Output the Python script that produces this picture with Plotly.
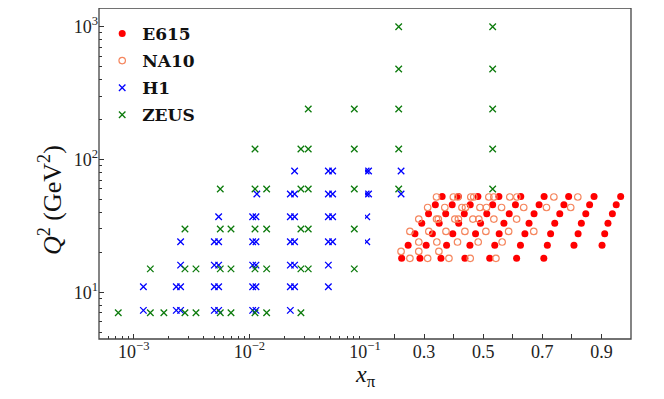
import numpy as np
import plotly.graph_objects as go

# E615 Drell-Yan: one row of x_pi values per Q^2 = M^2 bin
e615_q2 = [18.06, 22.56, 27.56, 33.06, 39.06, 45.56, 52.56]
e615_x = [
    [0.224, 0.286, 0.357, 0.438, 0.522, 0.613, 0.705],
    [0.246, 0.307, 0.376, 0.455, 0.539, 0.626, 0.717, 0.807, 0.902],
    [0.269, 0.328, 0.397, 0.474, 0.554, 0.641, 0.728, 0.821, 0.911],
    [0.292, 0.351, 0.417, 0.491, 0.570, 0.655, 0.742, 0.832, 0.922],
    [0.315, 0.373, 0.436, 0.512, 0.588, 0.672, 0.759, 0.847, 0.937],
    [0.338, 0.395, 0.456, 0.532, 0.609, 0.689, 0.773, 0.860, 0.950],
    [0.361, 0.416, 0.482, 0.553, 0.627, 0.706, 0.789, 0.875, 0.965],
]

# NA10 Drell-Yan
na10_q2 = [18.0, 20.3, 23.9, 28.7, 35.6, 43.5, 52.2]
na10_x = [
    [0.252, 0.312, 0.384, 0.456, 0.543],
    [0.222, 0.282, 0.350],
    [0.282, 0.343, 0.413, 0.483, 0.564],
    [0.252, 0.316, 0.374, 0.438, 0.509, 0.586, 0.671],
    [0.282, 0.342, 0.348, 0.404, 0.416, 0.465, 0.485, 0.536, 0.613],
    [0.312, 0.370, 0.428, 0.440, 0.489, 0.511, 0.562, 0.637, 0.714, 0.796],
    [0.342, 0.399, 0.414, 0.458, 0.468, 0.519, 0.536, 0.590, 0.614, 0.739, 0.820],
]

# H1 leading neutron
h1_q2 = [7.3, 11, 16, 24, 37, 55, 82]
h1_x = [
    [0.00121, 0.00233, 0.00254, 0.00497, 0.00542, 0.01067, 0.0114, 0.0226],
    [0.00121, 0.00233, 0.00254, 0.00497, 0.00542, 0.01067, 0.0114, 0.0226, 0.0246, 0.0482],
    [0.00254, 0.00497, 0.00542, 0.01067, 0.0114, 0.0226, 0.0246, 0.0482],
    [0.00254, 0.00497, 0.00542, 0.01067, 0.0114, 0.0226, 0.0246, 0.0482, 0.0525, 0.106],
    [0.00542, 0.01067, 0.0114, 0.0226, 0.0246, 0.0482, 0.0525, 0.106],
    [0.0116, 0.0226, 0.0246, 0.0482, 0.0525, 0.104, 0.112, 0.222],
    [0.0246, 0.0482, 0.0525, 0.104, 0.112, 0.222],
]

# ZEUS leading neutron
zeus_q2 = [7, 15, 30, 60, 120, 240, 480, 1000]
zeus_x = [
    [0.000734, 0.00139, 0.00182, 0.00277, 0.00345, 0.0056, 0.00693, 0.01118, 0.0141, 0.0279],
    [0.00139, 0.00277, 0.00345, 0.0056, 0.00693, 0.01118, 0.0141, 0.0279, 0.0323, 0.0808],
    [0.00277, 0.0056, 0.00693, 0.01118, 0.0141, 0.0279, 0.0323, 0.0808],
    [0.0056, 0.01118, 0.0141, 0.0279, 0.0323, 0.0808, 0.214, 0.532],
    [0.01118, 0.0279, 0.0323, 0.0808, 0.214, 0.532],
    [0.0323, 0.0808, 0.214, 0.532],
    [0.214, 0.532],
    [0.214, 0.532],
]

X_SPLIT = 0.1
SERIF = "Liberation Serif"
LEGEND_FONT = "DejaVu Serif"


def flatten(q2_levels, x_rows):
    xs, ys = [], []
    for q2, row in zip(q2_levels, x_rows):
        xs.extend(row)
        ys.extend([q2] * len(row))
    return np.array(xs), np.array(ys)


def add_series(fig, name, q2_levels, x_rows, marker):
    # log axis below x = 0.1, linear axis above it
    x, y = flatten(q2_levels, x_rows)
    low = x < X_SPLIT
    first = True
    for mask, xaxis in [(low, "x"), (~low, "x2")]:
        if not mask.any():
            continue
        fig.add_trace(go.Scatter(
            x=x[mask], y=y[mask], mode="markers", name=name,
            legendgroup=name, showlegend=first, marker=marker,
            xaxis=xaxis, yaxis="y",
        ))
        first = False


fig = go.Figure()
add_series(fig, "E615", e615_q2, e615_x,
           dict(symbol="circle", size=7, color="#ff0000", line=dict(width=0)))
add_series(fig, "NA10", na10_q2, na10_x,
           dict(symbol="circle-open", size=6.5, color="#f5865e", line=dict(width=1.2)))
add_series(fig, "H1", h1_q2, h1_x,
           dict(symbol="x-thin-open", size=6.5, color="#0000ff", line=dict(width=1.3)))
add_series(fig, "ZEUS", zeus_q2, zeus_x,
           dict(symbol="x-thin-open", size=6.5, color="#0b7a0b", line=dict(width=1.3)))

tick_common = dict(
    ticks="inside", ticklen=5, tickwidth=1, tickcolor="#333333",
    showgrid=False, zeroline=False, showline=False,
    tickfont=dict(family=SERIF, size=18, color="#222222"),
)
minor_common = dict(tickmode="array", ticks="inside", ticklen=3, tickwidth=1, tickcolor="#333333")

log_minor = [m * 10.0 ** k for k in (-4, -3, -2) for m in range(2, 10) if 5e-4 <= m * 10.0 ** k < 0.1]
y_minor = [m * 10.0 ** k for k in (0, 1, 2, 3) for m in range(2, 10) if 4.4 <= m * 10.0 ** k <= 1400]

fig.update_layout(
    width=664, height=399,
    margin=dict(l=91, r=41, t=0, b=68),
    paper_bgcolor="white", plot_bgcolor="white",
    font=dict(family=SERIF, color="#222222"),
    xaxis=dict(
        type="log", domain=[0, 0.5], range=[np.log10(5e-4), -1], anchor="y",
        tickmode="array", tickvals=[1e-3, 1e-2, 1e-1],
        ticktext=["10<sup>\u22123</sup>", "10<sup>\u22122</sup>", "10<sup>\u22121</sup>"],
        minor=dict(tickvals=log_minor, **minor_common),
        **tick_common,
    ),
    xaxis2=dict(
        type="linear", domain=[0.5, 1], range=[0.1, 1.0], anchor="y",
        tickmode="array", tickvals=[0.3, 0.5, 0.7, 0.9],
        minor=dict(tickvals=[0.2, 0.4, 0.6, 0.8], **dict(minor_common, ticklen=5)),
        **tick_common,
    ),
    yaxis=dict(
        type="log", range=[0.648, 3.141], anchor="x",
        tickmode="array", tickvals=[10, 100, 1000],
        ticktext=["10<sup>1</sup>", "10<sup>2</sup>", "10<sup>3</sup>"],
        minor=dict(tickvals=y_minor, **minor_common),
        **tick_common,
    ),
    legend=dict(
        x=0.006, y=0.976, xanchor="left", yanchor="top",
        bgcolor="rgba(0,0,0,0)", traceorder="grouped", tracegroupgap=2,
        font=dict(family=LEGEND_FONT, size=17, weight="bold", color="#111111"),
    ),
    shapes=[dict(type="rect", xref="paper", yref="paper", x0=0, x1=1, y0=0, y1=1,
                 line=dict(color="#444444", width=1.3), layer="above")],
    annotations=[
        dict(text="<i>x</i><sub>\u03c0</sub>", xref="paper", yref="paper", x=0.5, y=-0.112,
             xanchor="center", yanchor="middle", showarrow=False,
             font=dict(family=SERIF, size=24, color="#111111")),
        dict(text="<i>Q</i><sup>2</sup> (GeV<sup>2</sup>)", xref="paper", yref="paper",
             x=-0.09, y=0.42, xanchor="center", yanchor="middle", textangle=-90,
             showarrow=False, font=dict(family=SERIF, size=26, color="#111111")),
    ],
)

fig.write_html("out.html")
